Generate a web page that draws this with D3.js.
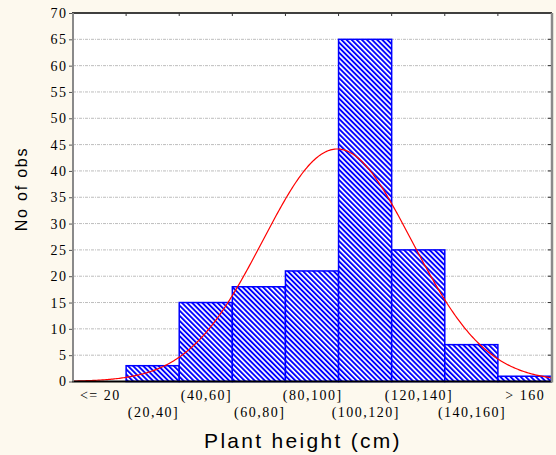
<!DOCTYPE html>
<html>
<head>
<meta charset="utf-8">
<script src="https://cdn.jsdelivr.net/npm/d3@7"></script>
<style>
  html, body { margin: 0; padding: 0; background: #fdf9ee; }
  svg { display: block; }
</style>
</head>
<body>
<script>
// Histogram of plant heights with a fitted normal curve
const categories = ["<= 20", "(20,40]", "(40,60]", "(60,80]", "(80,100]", "(100,120]", "(120,140]", "(140,160]", "> 160"];
const counts = [0, 3, 15, 18, 21, 65, 25, 7, 1];
const yTicks = [0, 5, 10, 15, 20, 25, 30, 35, 40, 45, 50, 55, 60, 65, 70];
const binWidth = 20;
const fitMean = 99.5;
const fitSd = 28;

const W = 556, H = 455;
const plot = { left: 73, right: 551, top: 13, bottom: 381.5 };

const svg = d3.select("body").append("svg").attr("width", W).attr("height", H);
svg.append("rect").attr("width", W).attr("height", H).attr("fill", "#fdf9ee");

const x = d3.scaleLinear().domain([0, categories.length * binWidth]).range([plot.left, plot.right]);
const y = d3.scaleLinear().domain([0, 70]).range([plot.bottom, plot.top]);

// hatch fill for the bars
const defs = svg.append("defs");
const pat = defs.append("pattern")
  .attr("id", "hatch").attr("patternUnits", "userSpaceOnUse")
  .attr("width", 3.6).attr("height", 10)
  .attr("patternTransform", "rotate(-45)");
pat.append("rect").attr("width", 3.6).attr("height", 10).attr("fill", "#ffffff");
pat.append("rect").attr("width", 1.9).attr("height", 10).attr("fill", "#0000ff");

// plot area
svg.append("rect")
  .attr("x", plot.left).attr("y", plot.top)
  .attr("width", plot.right - plot.left).attr("height", plot.bottom - plot.top)
  .attr("fill", "#ffffff");

// dotted gridlines
svg.append("g").selectAll("line")
  .data(yTicks.filter(t => t > 0 && t < 70))
  .join("line")
  .attr("x1", plot.left).attr("x2", plot.right)
  .attr("y1", d => y(d)).attr("y2", d => y(d))
  .attr("stroke", "#bdbdbd").attr("stroke-width", 1)
  .attr("stroke-dasharray", "3,1,1,1");

// bars
svg.append("g").selectAll("rect")
  .data(counts.map((c, i) => ({ c, i })).filter(d => d.c > 0))
  .join("rect")
  .attr("x", d => x(d.i * binWidth))
  .attr("y", d => y(d.c))
  .attr("width", d => x((d.i + 1) * binWidth) - x(d.i * binWidth))
  .attr("height", d => y(0) - y(d.c))
  .attr("fill", "url(#hatch)")
  .attr("stroke", "#0000ff").attr("stroke-width", 1.5);

// fitted normal curve, scaled to counts per bin
const total = d3.sum(counts);
const normal = v => total * binWidth / (fitSd * Math.sqrt(2 * Math.PI)) *
  Math.exp(-((v - fitMean) ** 2) / (2 * fitSd * fitSd));
const xs = d3.range(0, categories.length * binWidth + 0.01, 0.5);
svg.append("path")
  .datum(xs)
  .attr("d", d3.line().x(v => x(v)).y(v => y(normal(v))))
  .attr("fill", "none").attr("stroke", "#ff0000").attr("stroke-width", 1.2);

// frame
svg.append("line").attr("x1", plot.left - 1).attr("x2", plot.right + 1)
  .attr("y1", plot.top).attr("y2", plot.top).attr("stroke", "#000").attr("stroke-width", 1.5);
svg.append("line").attr("x1", plot.left - 1).attr("x2", plot.right + 1)
  .attr("y1", plot.bottom).attr("y2", plot.bottom).attr("stroke", "#000").attr("stroke-width", 2);
svg.append("line").attr("x1", plot.left).attr("x2", plot.left)
  .attr("y1", plot.top).attr("y2", plot.bottom).attr("stroke", "#8a8a8a").attr("stroke-width", 2);
svg.append("line").attr("x1", plot.right + 1).attr("x2", plot.right + 1)
  .attr("y1", plot.top).attr("y2", plot.bottom + 1).attr("stroke", "#8a8a8a").attr("stroke-width", 2.5);

// right-side inward ticks and top ticks
svg.append("g").selectAll("line")
  .data(yTicks.filter(t => t > 0 && t < 70))
  .join("line")
  .attr("x1", plot.right - 3).attr("x2", plot.right)
  .attr("y1", d => y(d)).attr("y2", d => y(d))
  .attr("stroke", "#333");
svg.append("g").selectAll("line")
  .data(d3.range(1, categories.length))
  .join("line")
  .attr("x1", d => x(d * binWidth)).attr("x2", d => x(d * binWidth))
  .attr("y1", plot.top).attr("y2", plot.top + 3)
  .attr("stroke", "#333");

// left y axis
const yAxis = d3.axisLeft(y).tickValues(yTicks).tickSize(3).tickPadding(1.5);
const gy = svg.append("g").attr("transform", `translate(${plot.left - 1},0)`).call(yAxis);
gy.select(".domain").remove();
gy.selectAll(".tick line").attr("stroke", "#555");
gy.selectAll("text")
  .attr("font-family", "'Liberation Serif', 'Times New Roman', serif")
  .attr("font-size", 14).attr("letter-spacing", "1.5px").attr("fill", "#000");

// x category labels, staggered in two rows
svg.append("g").selectAll("text")
  .data(categories)
  .join("text")
  .attr("x", (d, i) => x((i + 0.5) * binWidth) + 0.75)
  .attr("y", (d, i) => i % 2 === 0 ? 400 : 417)
  .attr("text-anchor", "middle")
  .attr("font-family", "'Liberation Serif', 'Times New Roman', serif")
  .attr("font-size", 14).attr("letter-spacing", "1.5px").attr("fill", "#000")
  .text(d => d);

// axis titles
svg.append("text")
  .attr("x", 303).attr("y", 448)
  .attr("text-anchor", "middle")
  .attr("font-family", "'Liberation Sans', Arial, sans-serif")
  .attr("font-size", 21).attr("letter-spacing", "2.3px").attr("fill", "#000")
  .text("Plant height (cm)");

svg.append("text")
  .attr("transform", "translate(27,189) rotate(-90)")
  .attr("text-anchor", "middle")
  .attr("font-family", "'Liberation Sans', Arial, sans-serif")
  .attr("font-size", 16).attr("letter-spacing", "1.8px").attr("fill", "#000")
  .text("No of obs");
</script>
</body>
</html>
